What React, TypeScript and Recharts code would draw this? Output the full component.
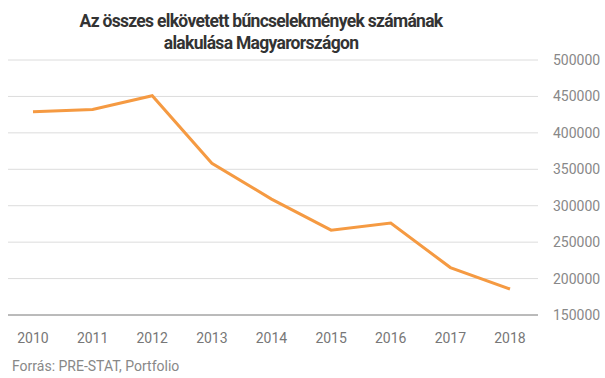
import React from "react"
import { LineChart, Line, XAxis, YAxis, CartesianGrid } from "recharts"

const years = ["2010", "2011", "2012", "2013", "2014", "2015", "2016", "2017", "2018"]
const crimes = [428900, 432100, 451000, 358300, 309000, 266500, 276200, 215100, 185700]
const yTicks = [150000, 200000, 250000, 300000, 350000, 400000, 450000, 500000]

const data = years.map((year, i) => ({ year, value: crimes[i] }))

const FONT = "Roboto, 'Noto Sans', sans-serif"

export default function App() {
  return (
    <div style={{ position: "absolute", left: 0, top: 0, width: 605, height: 378, background: "#fff", fontFamily: FONT }}>
      <div
        style={{
          position: "absolute",
          left: 0,
          width: 522,
          top: 10,
          textAlign: "center",
          fontSize: 17.5,
          fontWeight: 700,
          lineHeight: "22px",
          letterSpacing: -0.7,
          color: "#333",
        }}
      >
        Az összes elkövetett bűncselekmények számának
        <br />
        alakulása Magyarországon
      </div>
      <LineChart width={605} height={378} data={data} margin={{ top: 60, right: 0, left: 8, bottom: 0 }}>
        <CartesianGrid vertical={false} stroke="#dcdcdc" />
        <XAxis
          dataKey="year"
          padding={{ left: 25, right: 28 }}
          tickLine={false}
          axisLine={{ stroke: "#888" }}
          tick={{ fill: "#777", fontSize: 14, fontFamily: FONT }}
          tickMargin={12}
          height={63}
        />
        <YAxis
          orientation="right"
          domain={[150000, 500000]}
          ticks={yTicks}
          axisLine={false}
          tickLine={false}
          tickSize={0}
          tickMargin={15}
          width={67}
          tick={{ fill: "#888", fontSize: 14, fontFamily: FONT, textAnchor: "start" }}
        />
        <Line
          type="linear"
          dataKey="value"
          stroke="#f59a42"
          strokeWidth={3}
          dot={false}
          isAnimationActive={false}
        />
      </LineChart>
      <div style={{ position: "absolute", left: 12, top: 358, fontSize: 14, color: "#888" }}>
        Forrás: PRE-STAT, Portfolio
      </div>
    </div>
  )
}
